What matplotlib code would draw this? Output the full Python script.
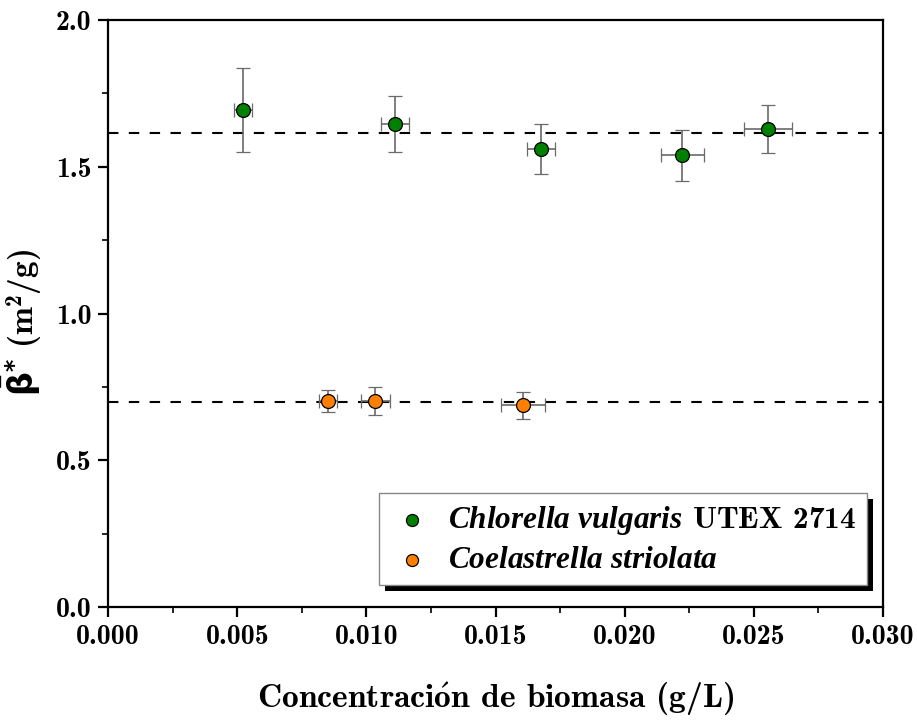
import matplotlib
matplotlib.use("Agg")
import matplotlib.pyplot as plt
from matplotlib.patches import Rectangle
from matplotlib.ticker import MultipleLocator, FormatStrFormatter

plt.rcParams['font.family'] = ['cmb10', 'DejaVu Serif']
plt.rcParams['font.weight'] = 'bold'
plt.rcParams['mathtext.fontset'] = 'custom'
plt.rcParams['mathtext.rm'] = 'cmb10'
plt.rcParams['mathtext.bf'] = 'cmb10'
plt.rcParams['mathtext.it'] = 'Liberation Serif:italic:bold'
plt.rcParams['mathtext.sf'] = 'DejaVu Sans:bold'
plt.rcParams['axes.unicode_minus'] = False
plt.rcParams['axes.formatter.use_mathtext'] = False

# Data
cv_x = [0.00523, 0.01111, 0.01676, 0.02222, 0.02555]
cv_y = [1.693, 1.646, 1.560, 1.540, 1.629]
cv_yerr = [0.143, 0.094, 0.086, 0.087, 0.083]
cv_xerr = [0.00036, 0.00055, 0.00054, 0.00083, 0.00093]
cv_mean = 1.615

cs_x = [0.00852, 0.01034, 0.01607]
cs_y = [0.702, 0.702, 0.688]
cs_yerr = [0.038, 0.048, 0.046]
cs_xerr = [0.00035, 0.00056, 0.00086]
cs_mean = 0.698

fig = plt.figure(figsize=(9.17, 7.23), dpi=100)
ax = fig.add_axes([0.1178, 0.1604, 0.963 - 0.1178, 0.9723 - 0.1604])

ax.axhline(cv_mean, color='black', ls=(0, (5, 5)), lw=1.5, zorder=1)
ax.axhline(cs_mean, color='black', ls=(0, (5, 5)), lw=1.5, zorder=1)

ekw = dict(fmt='o', ecolor='#6a6a6a', elinewidth=1.2, capsize=5, capthick=1.2,
           markersize=10, markeredgecolor='black', markeredgewidth=0.9, zorder=3)
ax.errorbar(cv_x, cv_y, yerr=cv_yerr, xerr=cv_xerr, color='#008000', **ekw)
ax.errorbar(cs_x, cs_y, yerr=cs_yerr, xerr=cs_xerr, color='#ff8000', **ekw)

# legend handles
h1 = ax.scatter([], [], s=75, color='#008000', edgecolor='black', linewidth=0.9)
h2 = ax.scatter([], [], s=75, color='#ff8000', edgecolor='black', linewidth=0.9)
lab1 = r'$\mathit{Chlorella\ vulgaris}$ UTEX 2714'
lab2 = r'$\mathit{Coelastrella\ striolata}$'
leg = ax.legend([h1, h2], [lab1, lab2], loc='lower right',
                bbox_to_anchor=(0.9794, 0.0375), fancybox=False, framealpha=1,
                edgecolor='#888888', prop={'size': 22.5, 'weight': 'bold'},
                handletextpad=0.45, handlelength=1.4,
                borderpad=0.35, labelspacing=0.3, borderaxespad=0)
leg.get_frame().set_linewidth(1.0)
leg.set_zorder(6)

ax.set_xlim(0, 0.030)
ax.set_ylim(0, 2.0)
ax.xaxis.set_major_locator(MultipleLocator(0.005))
ax.xaxis.set_minor_locator(MultipleLocator(0.0025))
ax.yaxis.set_major_locator(MultipleLocator(0.5))
ax.yaxis.set_minor_locator(MultipleLocator(0.25))
ax.xaxis.set_major_formatter(FormatStrFormatter('%.3f'))
ax.yaxis.set_major_formatter(FormatStrFormatter('%.1f'))

for s in ax.spines.values():
    s.set_linewidth(1.6)
ax.tick_params(which='major', direction='out', length=7, width=1.6, labelsize=20,
               pad=5, top=False, right=False)
ax.tick_params(which='minor', direction='out', length=4, width=1.2,
               top=False, right=False)

ax.set_xlabel(r'Concentraci$\acute{\mathrm{o}}$n de biomasa (g/L)', fontsize=24.2,
              fontweight='bold', labelpad=22)
ax.set_ylabel(r'$\bar{\mathsf{\beta}}^{\mathsf{*}}$ (m$^{2}$/g)', fontsize=24,
              fontweight='bold', labelpad=8)
ax.yaxis.set_label_coords(-0.083, 0.485)

fig.canvas.draw()
bb = leg.get_window_extent()
off = 6
shadow = Rectangle((bb.x0 + off, bb.y0 - off), bb.width, bb.height,
                   transform=None, facecolor='black', edgecolor='none', zorder=5.5)
ax.add_artist(shadow)
shadow.set_clip_on(False)

fig.savefig('out.png', dpi=100)
